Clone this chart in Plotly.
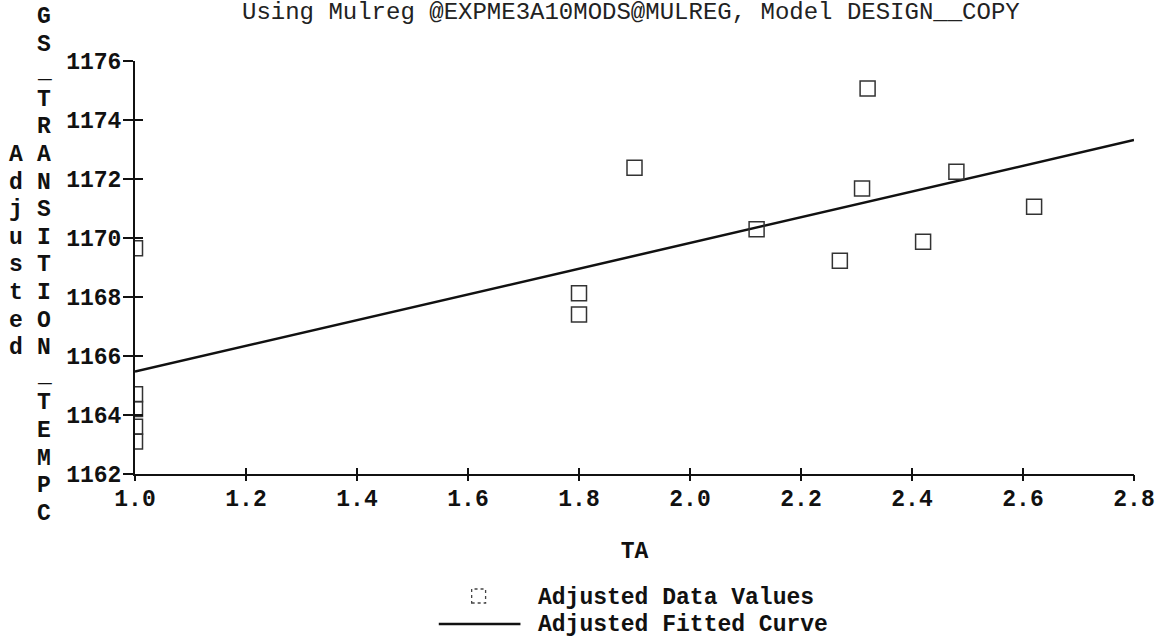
import plotly.graph_objects as go

# ---- data ----
data_x = [1.0, 1.0, 1.0, 1.0, 1.0, 1.80, 1.80, 1.90, 2.12, 2.27, 2.31, 2.32, 2.42, 2.48, 2.62]
data_y = [1169.65, 1164.7, 1164.2, 1163.6, 1163.1, 1168.13, 1167.41, 1172.38, 1170.30,
          1169.23, 1171.68, 1175.07, 1169.87, 1172.25, 1171.06]

fit_x = [1.0, 1.8, 2.2, 2.8]
fit_y = [1165.47, 1168.97, 1170.70, 1173.32]

x_ticks = [1.0, 1.2, 1.4, 1.6, 1.8, 2.0, 2.2, 2.4, 2.6, 2.8]
x_tick_labels = ["1.0", "1.2", "1.4", "1.6", "1.8", "2.0", "2.2", "2.4", "2.6", "2.8"]
y_ticks = [1162, 1164, 1166, 1168, 1170, 1172, 1174, 1176]
y_tick_labels = ["1162", "1164", "1166", "1168", "1170", "1172", "1174", "1176"]

title_text = "Using Mulreg @EXPME3A10MODS@MULREG, Model DESIGN__COPY"
x_title = "TA"
y_title_col1 = "Adjusted"
y_title_col2 = "GS_TRANSITION_TEMPC"
legend_labels = ["Adjusted Data Values", "Adjusted Fitted Curve"]

# ---- layout geometry (pixels) ----
W, H = 1167, 639
L, R, T, B = 135, 29, 61, 165
PW, PH = W - L - R, H - T - B

def px_x(p):
    return (p - L) / PW

def px_y(p):
    return (H - B - p) / PH

MONO = "Liberation Mono, Courier New, monospace"
INK = "#111111"

fig = go.Figure()

fig.add_trace(go.Scatter(
    x=fit_x, y=fit_y, mode="lines",
    line=dict(color=INK, width=2.5),
    name=legend_labels[1], showlegend=False,
))
fig.add_trace(go.Scatter(
    x=data_x, y=data_y, mode="markers",
    marker=dict(symbol="square-open", size=15, color="#333333", line=dict(width=1.5)),
    name=legend_labels[0], showlegend=False, cliponaxis=True,
))
# empty trace to activate overlay axes (for ticks crossing the axis lines)
fig.add_trace(go.Scatter(x=[], y=[], xaxis="x2", yaxis="y2", showlegend=False))

tickfont = dict(family=MONO, size=23, color=INK, weight="bold")

fig.update_layout(
    width=W, height=H,
    margin=dict(l=L, r=R, t=T, b=B, pad=0),
    paper_bgcolor="white", plot_bgcolor="white",
    showlegend=False,
    xaxis=dict(
        range=[1.0, 2.8], tickvals=x_ticks, ticktext=x_tick_labels,
        showgrid=False, zeroline=False, showline=True, linecolor=INK, linewidth=2,
        ticks="inside", ticklen=6, tickwidth=2, tickcolor=INK,
        tickfont=tickfont, ticklabelstandoff=2,
        title=dict(text=x_title, font=dict(family=MONO, size=23, color=INK, weight="bold"),
                   standoff=30),
    ),
    yaxis=dict(
        range=[1162, 1176], tickvals=y_ticks, ticktext=y_tick_labels,
        showgrid=False, zeroline=False, showline=True, linecolor=INK, linewidth=2,
        ticks="outside", ticklen=10, tickwidth=2, tickcolor=INK,
        tickfont=tickfont, ticklabelstandoff=-3,
    ),
    xaxis2=dict(
        overlaying="x", anchor="y2", side="bottom", range=[1.0, 2.8], tickvals=x_ticks,
        showticklabels=False, showgrid=False, zeroline=False, showline=False,
        ticks="outside", ticklen=6, tickwidth=2, tickcolor=INK,
    ),
    yaxis2=dict(
        overlaying="y", anchor="x2", side="left", range=[1162, 1176], tickvals=y_ticks,
        showticklabels=False, showgrid=False, zeroline=False, showline=False,
        ticks="inside", ticklen=8, tickwidth=2, tickcolor=INK,
    ),
)

annotations = []
# title (top slightly cut off, as in the scan)
annotations.append(dict(
    text=title_text, xref="paper", yref="paper", x=px_x(633), y=px_y(12),
    xanchor="center", yanchor="middle", showarrow=False,
    font=dict(family=MONO, size=24, color="#222222"),
))

# vertical stacked y-axis titles
row0, row_step = 17.0, 27.6
for i, ch in enumerate(y_title_col2):
    annotations.append(dict(
        text=ch, xref="paper", yref="paper", x=px_x(44), y=px_y(row0 + i * row_step),
        xanchor="center", yanchor="middle", showarrow=False,
        font=dict(family=MONO, size=23, color=INK, weight="bold"),
    ))
for i, ch in enumerate(y_title_col1):
    annotations.append(dict(
        text=ch, xref="paper", yref="paper", x=px_x(16), y=px_y(row0 + (i + 5) * row_step),
        xanchor="center", yanchor="middle", showarrow=False,
        font=dict(family=MONO, size=23, color=INK, weight="bold"),
    ))

# custom legend
leg_rows = [598, 625]
for lab, ry in zip(legend_labels, leg_rows):
    annotations.append(dict(
        text=lab, xref="paper", yref="paper", x=px_x(538), y=px_y(ry),
        xanchor="left", yanchor="middle", showarrow=False,
        font=dict(family=MONO, size=23, color=INK, weight="bold"),
    ))
fig.update_layout(annotations=annotations)

fig.add_shape(type="rect", xref="paper", yref="paper",
              x0=px_x(473), x1=px_x(487), y0=px_y(603), y1=px_y(589),
              line=dict(color="#444444", width=1.3, dash="dot"))
fig.add_shape(type="line", xref="paper", yref="paper",
              x0=px_x(440), x1=px_x(522), y0=px_y(624), y1=px_y(624),
              line=dict(color=INK, width=2.5))

fig.write_html("out.html", config={"displayModeBar": False},
               post_script="document.body.style.margin='0';")
